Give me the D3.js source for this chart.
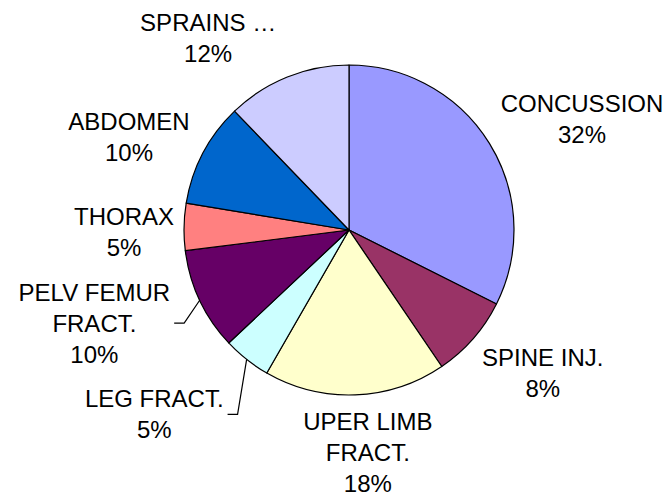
<!DOCTYPE html>
<html>
<head>
<meta charset="utf-8">
<script src="https://cdn.jsdelivr.net/npm/d3@7"></script>
<style>
    body { margin: 0; background: #fff; }
    text { font-family: "Liberation Sans", Arial, sans-serif; font-size: 24px; fill: #000; }
</style>
</head>
<body>
<div id="view"></div>
<script>
// chart data
const categories = ["CONCUSSION", "SPINE INJ.", "UPER LIMB FRACT.", "LEG FRACT.",
    "PELV FEMUR FRACT.", "THORAX", "ABDOMEN", "SPRAINS \u2026"];
const shares = [32.4, 8.1, 17.8, 4.7, 10.0, 4.6, 10.2, 12.2];
const colors = ["#9999FF", "#993366", "#FFFFCC", "#CCFFFF", "#660066", "#FF8080", "#0066CC", "#CCCCFF"];

// label layout (Excel moved some labels by hand)
const labelNudge = [[33, 12], [17, -12], [10, -12], [-49, 0], [-42, -7], [10, 6], [-12, 16], [-53, 26]];
const hasLeader = [false, false, false, true, true, false, false, false];

const width = 670, height = 496;
const cx = 349, cy = 230, radius = 165, labelRadius = 235;
const lineGap = 31, wrapWidth = 165;

const svg = d3.select("#view")
    .append("svg")
        .attr("width", width)
        .attr("height", height);

const g = svg.append("g")
    .attr("transform", `translate(${cx},${cy})`);

const total = d3.sum(shares);
const pie = d3.pie().sort(null).value(d => d);
const arcs = pie(shares);
const arc = d3.arc().innerRadius(0).outerRadius(radius);
const labelArc = d3.arc().innerRadius(labelRadius).outerRadius(labelRadius);
const edgeArc = d3.arc().innerRadius(radius).outerRadius(radius);

g.selectAll("path.slice")
    .data(arcs)
    .join("path")
        .attr("class", "slice")
        .attr("d", arc)
        .attr("fill", (d, i) => colors[i])
        .attr("stroke", "#000")
        .attr("stroke-width", 1.2)
        .attr("stroke-linejoin", "round");

// split a label into lines no wider than wrapWidth
const measure = svg.append("text").attr("visibility", "hidden");
function textWidth(s) {
    measure.text(s);
    return measure.node().getComputedTextLength();
}
function wrap(label) {
    const words = label.split(" ");
    const lines = [];
    let line = "";
    words.forEach(w => {
        const test = line ? line + " " + w : w;
        if (line && textWidth(test) > wrapWidth) {
            lines.push(line);
            line = w;
        } else {
            line = test;
        }
    });
    lines.push(line);
    return lines;
}

arcs.forEach((d, i) => {
    const lines = wrap(categories[i]);
    lines.push(Math.round(d.value / total * 100) + "%");

    const c = labelArc.centroid(d);
    const lx = c[0] + labelNudge[i][0];
    const ly = c[1] + labelNudge[i][1];
    const top = ly - (lines.length - 1) * lineGap / 2;

    const t = g.append("text").attr("text-anchor", "middle");
    lines.forEach((s, k) => {
        t.append("tspan")
            .attr("x", lx)
            .attr("y", top + k * lineGap + 8.5)
            .text(s);
    });

    // leader line from the slice edge to the moved label
    if (hasLeader[i]) {
        const w = d3.max(lines, textWidth);
        const ex = lx + w / 2 + 4;
        const p0 = edgeArc.centroid(d);
        g.append("path")
            .attr("fill", "none")
            .attr("stroke", "#000")
            .attr("stroke-width", 1.2)
            .attr("d", d3.line()([p0, [ex + 10, ly], [ex, ly]]));
    }
});
measure.remove();
</script>
</body>
</html>
